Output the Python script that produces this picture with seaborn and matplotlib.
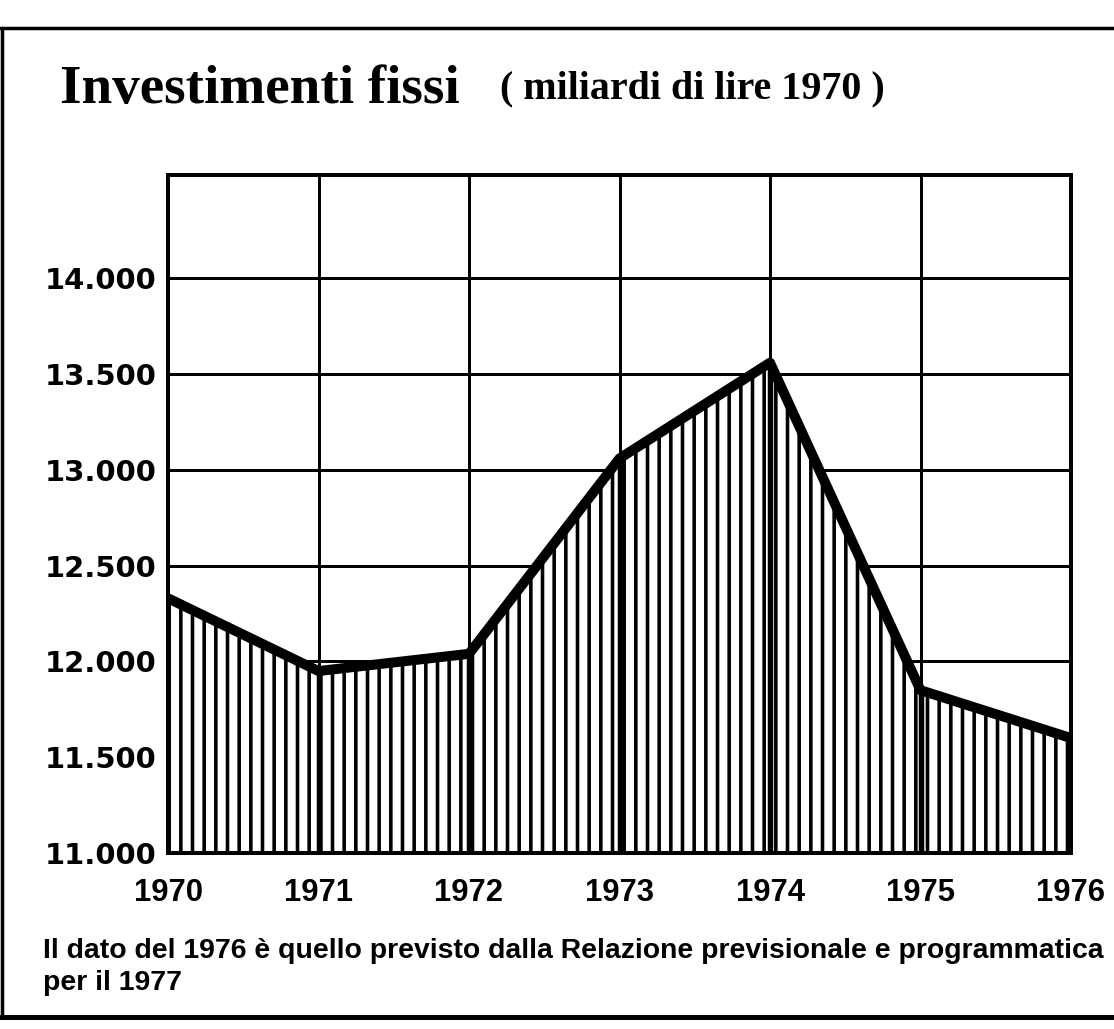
import matplotlib
matplotlib.use("Agg")
import matplotlib.pyplot as plt
from matplotlib.lines import Line2D
import seaborn as sns
import pandas as pd

# ---- data ----
years = [1970, 1971, 1972, 1973, 1974, 1975, 1976]
investimenti = [12330, 11950, 12040, 13060, 13560, 11850, 11600]
y_ticks = [11000, 11500, 12000, 12500, 13000, 13500, 14000]
y_tick_labels = ["11.000", "11.500", "12.000", "12.500", "13.000", "13.500", "14.000"]
x_tick_labels = ["1970", "1971", "1972", "1973", "1974", "1975", "1976"]
title_main = "Investimenti fissi"
title_sub = "( miliardi di lire 1970 )"
note_line1 = "Il dato del 1976 è quello previsto dalla Relazione previsionale e programmatica"
note_line2 = "per il 1977"

df = pd.DataFrame({"anno": years, "valore": investimenti})

DPI = 140
W, H = 1114, 1029
PT = 72.0 / DPI  # points per pixel

sns.set_style("white")
plt.rcParams["hatch.linewidth"] = 3.6 * PT
plt.rcParams["hatch.color"] = "black"
plt.rcParams["text.color"] = "black"
plt.rcParams["xtick.color"] = "black"
plt.rcParams["ytick.color"] = "black"
plt.rcParams["xtick.labelcolor"] = "black"
plt.rcParams["ytick.labelcolor"] = "black"

fig = plt.figure(figsize=(W / DPI, H / DPI), dpi=DPI, facecolor="white")

def fx(px):
    return px / W

def fy(py):
    return 1 - py / H

ax_left, ax_right, ax_top, ax_bottom = 168, 1071, 175, 853
ax = fig.add_axes([fx(ax_left), fy(ax_bottom), fx(ax_right - ax_left), (ax_bottom - ax_top) / H])
ax.set_facecolor("white")

# hatched area under the curve
ax.fill_between(df["anno"], df["valore"], y_ticks[0], facecolor="white",
                edgecolor="black", hatch="||", linewidth=0, zorder=2)
# vertical year lines inside the shaded area
ax.vlines(df["anno"][1:-1], y_ticks[0], df["valore"][1:-1], color="black",
          linewidth=5.5 * PT, zorder=3)

sns.lineplot(data=df, x="anno", y="valore", ax=ax, color="black",
             linewidth=10 * PT, zorder=5, solid_joinstyle="round",
             solid_capstyle="butt")

ax.set_xlim(years[0], years[-1])
ax.set_ylim(11000, 14540)
ax.set_xticks(years)
ax.set_xticklabels(x_tick_labels)
ax.set_yticks(y_ticks)
ax.set_yticklabels(y_tick_labels)
ax.set_axisbelow(True)
ax.grid(True, color="black", linewidth=3 * PT)
ax.set_xlabel("")
ax.set_ylabel("")
for s in ax.spines.values():
    s.set_visible(True)
    s.set_color("black")
    s.set_linewidth(4 * PT)
    s.set_zorder(6)

ax.tick_params(axis="y", length=0, pad=11 * PT, colors="black")
ax.tick_params(axis="x", length=0, pad=25 * PT, colors="black")
for lab in ax.get_yticklabels():
    lab.set_fontfamily("DejaVu Sans")
    lab.set_fontweight("bold")
    lab.set_fontsize(29 * PT)
    lab.set_color("black")
for lab in ax.get_xticklabels():
    lab.set_fontfamily(["Liberation Sans", "DejaVu Sans"])
    lab.set_fontweight("bold")
    lab.set_fontsize(31 * PT)
    lab.set_color("black")

# ---- texts ----
renderer = fig.canvas.get_renderer()

def fit_text(x_px, y_px, s, target_w, size_px, **kw):
    t = fig.text(fx(x_px), fy(y_px), s, fontsize=size_px * PT, va="baseline",
                 ha="left", color="black", **kw)
    w = t.get_window_extent(renderer=renderer).width
    if w > 0:
        t.set_fontsize(size_px * PT * target_w / w)
    return t

fit_text(60, 103, title_main, 400, 56, family=["Liberation Serif", "DejaVu Serif"],
         fontweight="bold")
fit_text(500, 98, title_sub, 385, 38, family=["Liberation Serif", "DejaVu Serif"],
         fontweight="bold")
t1 = fit_text(43, 958, note_line1, 1062, 21, family=["Liberation Sans", "DejaVu Sans"],
              fontweight="bold")
fig.text(fx(43), fy(990), note_line2, fontsize=t1.get_fontsize(), va="baseline",
         ha="left", color="black", family=["Liberation Sans", "DejaVu Sans"],
         fontweight="bold")

# ---- outer frame ----
lw_frame = 3.5 * PT
fig.add_artist(Line2D([0, 1], [fy(28), fy(28)], color="black", linewidth=lw_frame,
                      transform=fig.transFigure))
fig.add_artist(Line2D([fx(2), fx(2)], [fy(28), fy(1017)], color="black",
                      linewidth=lw_frame, transform=fig.transFigure))
fig.add_artist(Line2D([0, 1], [fy(1017), fy(1017)], color="black", linewidth=5 * PT,
                      transform=fig.transFigure))

fig.savefig("out.png", dpi=DPI, facecolor="white")
